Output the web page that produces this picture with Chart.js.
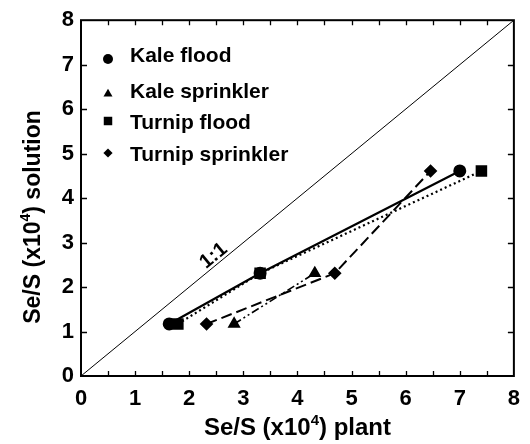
<!DOCTYPE html>
<html>
<head>
<meta charset="utf-8">
<script src="https://cdn.jsdelivr.net/npm/chart.js@4.4.0/dist/chart.umd.min.js"></script>
<style>
  body { margin: 0; background: #fff; }
</style>
</head>
<body>
<canvas id="chart" width="530" height="444"></canvas>
<script>
// values (Se/S x10^4)
const kaleFloodX = [1.63, 3.31, 7.00];
const kaleFloodY = [1.17, 2.31, 4.61];
const kaleSprinklerX = [2.83, 4.32];
const kaleSprinklerY = [1.17, 2.31];
const turnipFloodX = [1.79, 3.31, 7.40];
const turnipFloodY = [1.17, 2.31, 4.61];
const turnipSprinklerX = [2.32, 4.69, 6.46];
const turnipSprinklerY = [1.17, 2.31, 4.61];
const oneToOne = [0, 8];

const seriesNames = ['Kale flood', 'Kale sprinkler', 'Turnip flood', 'Turnip sprinkler'];
const axisTicks = [0, 1, 2, 3, 4, 5, 6, 7, 8];
const xMinorTicks = [0.5, 1, 1.5, 2, 2.5, 3, 3.5, 4, 4.5, 5, 5.5, 6, 6.5, 7, 7.5];
const yMinorTicks = [1, 2, 3, 4, 5, 6, 7];

const FONT = "'Liberation Sans', Arial, sans-serif";

const toPoints = (xs, ys) => xs.map((v, i) => ({ x: v, y: ys[i] }));

// draws "before" + superscript + "after" centred on (0,0) of current transform
function supText(ctx, before, sup, after, size) {
    ctx.font = `bold ${size}px ${FONT}`;
    const w1 = ctx.measureText(before).width;
    const w3 = ctx.measureText(after).width;
    ctx.font = `bold ${Math.round(size * 0.62)}px ${FONT}`;
    const w2 = ctx.measureText(sup).width;
    let x = -(w1 + w2 + w3) / 2;
    ctx.textAlign = 'left';
    ctx.textBaseline = 'alphabetic';
    ctx.font = `bold ${size}px ${FONT}`;
    ctx.fillText(before, x, size * 0.35);
    x += w1;
    ctx.font = `bold ${Math.round(size * 0.62)}px ${FONT}`;
    ctx.fillText(sup, x, size * 0.35 - size * 0.45);
    x += w2;
    ctx.font = `bold ${size}px ${FONT}`;
    ctx.fillText(after, x, size * 0.35);
}

function marker(ctx, style, x, y, r) {
    ctx.beginPath();
    if (style === 'circle') {
        ctx.arc(x, y, r, 0, Math.PI * 2);
    } else if (style === 'triangle') {
        ctx.moveTo(x, y - r);
        ctx.lineTo(x + r * 0.866, y + r * 0.5);
        ctx.lineTo(x - r * 0.866, y + r * 0.5);
    } else if (style === 'rect') {
        ctx.rect(x - r * 0.707, y - r * 0.707, r * 1.414, r * 1.414);
    } else {
        ctx.moveTo(x, y - r);
        ctx.lineTo(x + r, y);
        ctx.lineTo(x, y + r);
        ctx.lineTo(x - r, y);
    }
    ctx.closePath();
    ctx.fill();
}

const decor = {
    id: 'decor',
    afterDraw(chart) {
        const { ctx, chartArea: a, scales: { x, y } } = chart;
        ctx.save();
        ctx.strokeStyle = '#000';
        ctx.fillStyle = '#000';

        // frame
        ctx.lineWidth = 2;
        ctx.strokeRect(a.left, a.top, a.right - a.left, a.bottom - a.top);

        // inward tick marks
        ctx.lineWidth = 1.3;
        ctx.beginPath();
        xMinorTicks.forEach(v => {
            const px = Math.round(x.getPixelForValue(v)) + 0.5;
            ctx.moveTo(px, a.bottom); ctx.lineTo(px, a.bottom - 5);
            ctx.moveTo(px, a.top); ctx.lineTo(px, a.top + 5);
        });
        yMinorTicks.forEach(v => {
            const py = Math.round(y.getPixelForValue(v)) + 0.5;
            ctx.moveTo(a.left, py); ctx.lineTo(a.left + 6, py);
            ctx.moveTo(a.right, py); ctx.lineTo(a.right - 6, py);
        });
        ctx.stroke();

        // 1:1 label along the diagonal
        const lx = x.getPixelForValue(2.45), ly = y.getPixelForValue(2.7);
        const ang = Math.atan2(y.getPixelForValue(8) - y.getPixelForValue(0),
                               x.getPixelForValue(8) - x.getPixelForValue(0));
        ctx.save();
        ctx.translate(lx, ly);
        ctx.rotate(ang);
        ctx.font = `bold 20px ${FONT}`;
        ctx.textAlign = 'center';
        ctx.textBaseline = 'middle';
        ctx.fillText('1:1', 0, 0);
        ctx.restore();

        // legend inside plot
        const rowsY = [56, 92, 123, 155];
        const styles = ['circle', 'triangle', 'rect', 'rectRot'];
        const sizes = [5, 5.2, 6, 4.6];
        const offs = [3, 2, -2, -2];
        ctx.font = `bold 21px ${FONT}`;
        ctx.textAlign = 'left';
        ctx.textBaseline = 'middle';
        seriesNames.forEach((name, i) => {
            marker(ctx, styles[i], 108, rowsY[i] + offs[i], sizes[i]);
            ctx.fillText(name, 130, rowsY[i]);
        });

        // axis titles
        ctx.save();
        ctx.translate((a.left + a.right) / 2, 427);
        supText(ctx, 'Se/S (x10', '4', ') plant', 24);
        ctx.restore();
        ctx.save();
        ctx.translate(32, 217);
        ctx.rotate(-Math.PI / 2);
        supText(ctx, 'Se/S (x10', '4', ') solution', 23);
        ctx.restore();

        ctx.restore();
    }
};

const tickFont = { family: FONT, size: 22, weight: 'bold' };

new Chart(document.getElementById('chart'), {
    type: 'scatter',
    data: {
        datasets: [
            {
                label: '1:1',
                data: toPoints(oneToOne, oneToOne),
                showLine: true,
                borderColor: '#000',
                borderWidth: 1,
                pointRadius: 0
            },
            {
                label: seriesNames[0],
                data: toPoints(kaleFloodX, kaleFloodY),
                showLine: true,
                borderColor: '#000',
                backgroundColor: '#000',
                borderWidth: 2.2,
                pointStyle: 'circle',
                pointRadius: 5.4
            },
            {
                label: seriesNames[1],
                data: toPoints(kaleSprinklerX, kaleSprinklerY),
                showLine: true,
                borderColor: '#000',
                backgroundColor: '#000',
                borderWidth: 1.6,
                borderDash: [8, 3, 2, 3, 2, 3],
                pointStyle: 'triangle',
                pointRadius: 6
            },
            {
                label: seriesNames[2],
                data: toPoints(turnipFloodX, turnipFloodY),
                showLine: true,
                borderColor: '#000',
                backgroundColor: '#000',
                borderWidth: 2.2,
                borderDash: [2, 3],
                pointStyle: 'rect',
                pointRadius: 6.6
            },
            {
                label: seriesNames[3],
                data: toPoints(turnipSprinklerX, turnipSprinklerY),
                showLine: true,
                borderColor: '#000',
                backgroundColor: '#000',
                borderWidth: 2,
                borderDash: [11, 5],
                pointStyle: 'rectRot',
                pointRadius: 5.4
            }
        ]
    },
    options: {
        responsive: false,
        animation: false,
        events: [],
        layout: { padding: { left: 0, top: 19.5, right: 8.5, bottom: 0 } },
        plugins: { legend: { display: false }, tooltip: { enabled: false } },
        scales: {
            x: {
                type: 'linear',
                min: 0, max: 8,
                afterBuildTicks: s => { s.ticks = axisTicks.map(v => ({ value: v })); },
                afterFit: s => { s.height = 68; },
                grid: { display: false, drawTicks: false },
                border: { display: false },
                ticks: { color: '#000', font: tickFont, padding: 10, maxRotation: 0 }
            },
            y: {
                type: 'linear',
                min: 0, max: 8,
                afterBuildTicks: s => { s.ticks = axisTicks.map(v => ({ value: v })); },
                afterFit: s => { s.width = 81; },
                grid: { display: false, drawTicks: false },
                border: { display: false },
                ticks: { color: '#000', font: tickFont, padding: 7 }
            }
        }
    },
    plugins: [decor]
});
</script>
</body>
</html>
